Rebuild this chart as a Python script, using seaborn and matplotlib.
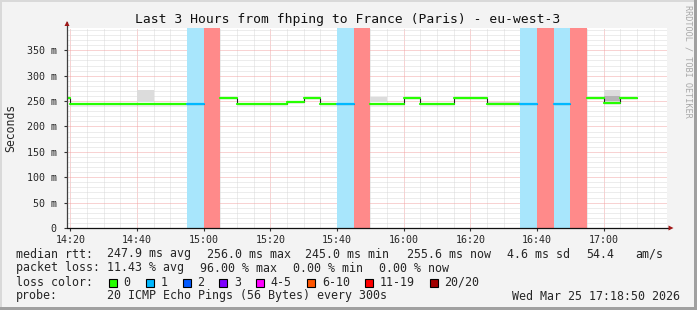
import numpy as np
import pandas as pd
import matplotlib
matplotlib.use("Agg")
import matplotlib.pyplot as plt
import seaborn as sns
from matplotlib.patches import Rectangle, Polygon

# ---------------- data ----------------
step_start = ["14:15", "14:20", "14:25", "14:30", "14:35", "14:40", "14:45", "14:50",
              "14:55", "15:00", "15:05", "15:10", "15:15", "15:20", "15:25", "15:30",
              "15:35", "15:40", "15:45", "15:50", "15:55", "16:00", "16:05", "16:10",
              "16:15", "16:20", "16:25", "16:30", "16:35", "16:40", "16:45", "16:50",
              "16:55", "17:00", "17:05"]
median_ms = [256, 245, 245, 245, 245, 245, 245, 245,
             245, np.nan, 256, 245, 245, 245, 248, 256,
             245, 245, np.nan, 245, 245, 256, 245, 245,
             257, 256, 245, 245, 245, np.nan, 245, np.nan,
             256, 247, 256]
loss_pings = [0, 0, 0, 0, 0, 0, 0, 0,
              1, 19, 0, 0, 0, 0, 0, 0,
              0, 1, 19, 0, 0, 0, 0, 0,
              0, 0, 0, 0, 1, 19, 1, 19,
              0, 0, 0]

smoke_start = ["14:40", "15:50", "16:25", "16:30", "17:00"]
smoke_lo = [248, 248, 246, 246, 249]
smoke_hi = [272, 259, 249, 249, 271]
smoke_dark_start = ["17:00"]
smoke_dark_lo = [250]
smoke_dark_hi = [260]

x_tick_labels = ["14:20", "14:40", "15:00", "15:20", "15:40", "16:00", "16:20", "16:40", "17:00"]
y_tick_values = [0, 50, 100, 150, 200, 250, 300, 350]
y_tick_labels = ["0", "50 m", "100 m", "150 m", "200 m", "250 m", "300 m", "350 m"]

loss_legend_labels = ["0", "1", "2", "3", "4-5", "6-10", "11-19", "20/20"]
loss_legend_colors = ["#26ff00", "#00b8ff", "#0059ff", "#7e00ff", "#ff00ff", "#ff5500", "#ff0000", "#a10000"]

title = "Last 3 Hours from fhping to France (Paris) - eu-west-3"
median_items = ["247.9 ms avg", "256.0 ms max", "245.0 ms min", "255.6 ms now", "4.6 ms sd", "54.4", "am/s"]
loss_items = ["11.43 % avg", "96.00 % max", "0.00 % min", "0.00 % now"]
probe_text = "20 ICMP Echo Pings (56 Bytes) every 300s"
date_text = "Wed Mar 25 17:18:50 2026"

# ---------------- helpers ----------------
W, H = 697, 310
T0 = 14 * 60 + 19     # axis start 14:19
STEP = 5


def tmin(s):
    h, m = map(int, s.split(":"))
    return h * 60 + m - T0


def fx(px):
    return px / W


def fy(py):
    return 1 - py / H


line_colors = {0: "#26ff00", 1: "#00b8ff", 19: "#ff0000"}
band_colors = {1: "#a8e6fc", 19: "#ff8a8a"}

sns.set_theme(style="white")
MONO = ["DejaVu Sans Mono"]
plt.rcParams["font.family"] = MONO

fig = plt.figure(figsize=(W / 100, H / 100), dpi=100)
fig.patch.set_facecolor("#f3f3f3")

ax = fig.add_axes([fx(67), fy(228), fx(600), 200 / H])
ax.set_facecolor("white")
XMAX = 180
YMAX = 394
ax.set_xlim(0, XMAX)
ax.set_ylim(0, YMAX)

# grid (minor then major), dotted
dot = (0, (1, 1))
MINOR_C = "#dadada"
MAJOR_C = "#f2a6a6"
for m in range(0, XMAX + 1):
    tt = m + T0
    if tt % 5 == 0:
        major = tt % 20 == 0
        ax.axvline(m, color=MAJOR_C if major else MINOR_C, lw=0.72, ls=dot, zorder=1)
for v in range(10, YMAX, 10):
    major = v % 50 == 0
    ax.axhline(v, color=MAJOR_C if major else MINOR_C, lw=0.72, ls=dot, zorder=1)

# loss bands
for s, lp in zip(step_start, loss_pings):
    if lp in band_colors:
        x0 = tmin(s)
        ax.axvspan(x0, x0 + STEP, color=band_colors[lp], lw=0, zorder=2)

# smoke
for s, lo, hi in zip(smoke_start, smoke_lo, smoke_hi):
    x0 = tmin(s)
    ax.fill_between([x0, x0 + STEP], lo, hi, color="#dcdcdc", lw=0, zorder=3)
for s, lo, hi in zip(smoke_dark_start, smoke_dark_lo, smoke_dark_hi):
    x0 = tmin(s)
    ax.fill_between([x0, x0 + STEP], lo, hi, color="#b4b4b4", lw=0, zorder=3)

# step connectors (dark)
xs = [tmin(s) for s in step_start]
edge_x = xs + [xs[-1] + STEP]
edge_y = list(median_ms) + [median_ms[-1]]
ax.step(edge_x, edge_y, where="post", color="#202020", lw=0.8, zorder=4)

# coloured median segments via seaborn
rows = []
for i, (s, v, lp) in enumerate(zip(step_start, median_ms, loss_pings)):
    if np.isnan(v):
        continue
    rows.append(dict(x=tmin(s), y=v, loss=lp, unit=i))
    rows.append(dict(x=tmin(s) + STEP, y=v, loss=lp, unit=i))
df = pd.DataFrame(rows)
sns.lineplot(data=df, x="x", y="y", hue="loss", units="unit", estimator=None,
             palette=line_colors, lw=1.6, legend=False, ax=ax, zorder=5,
             sort=False)

# axes styling
for sp in ax.spines.values():
    sp.set_visible(False)
ax.set_xlabel("")
ax.set_ylabel("")
ax.set_xticks([tmin(l) for l in x_tick_labels])
ax.set_xticklabels(x_tick_labels, fontsize=7.2, family=MONO)
ax.set_yticks(y_tick_values)
ax.set_yticklabels(y_tick_labels, fontsize=7.2, family=MONO)
ax.tick_params(axis="x", length=2.5, width=0.8, color="#333333", pad=2.5, direction="out", bottom=True)
ax.tick_params(axis="y", length=2.5, width=0.8, color="#333333", pad=5, direction="out", left=True)

# axis lines with arrows
ax.plot([0, 0], [0, 1 + 6 / 200], transform=ax.transAxes, color="#404040", lw=0.9, clip_on=False, zorder=6)
ax.plot([0, 1 + 2 / 600], [0, 0], transform=ax.transAxes, color="#101010", lw=0.9, clip_on=False, zorder=6)
fig.add_artist(Polygon([[fx(64.5), fy(26)], [fx(69.5), fy(26)], [fx(67), fy(21)]], closed=True,
                       color="#a01818", lw=0, transform=fig.transFigure))
fig.add_artist(Polygon([[fx(668.5), fy(225.5)], [fx(668.5), fy(230.5)], [fx(673.5), fy(228)]], closed=True,
                       color="#a01818", lw=0, transform=fig.transFigure))

# texts
fig.text(fx(347.5), fy(19), title, ha="center", va="center", fontsize=9.37, family=MONO, color="#101010")
fig.text(fx(11), fy(128), "Seconds", rotation=90, ha="center", va="center", fontsize=8.3, family=MONO)
fig.text(fx(688), fy(5), "RRDTOOL / TOBI OETIKER", rotation=-90, ha="center", va="top",
         fontsize=6.1, family=MONO, color="#a8a8a8")

LS = 8.35
median_x = [107.3, 207.3, 305.0, 407.3, 506.7, 586.0, 635.7]
loss_x = [107.3, 200.0, 292.7, 379.3]
fig.text(fx(16), fy(254), "median rtt:", ha="left", va="center", fontsize=LS, family=MONO)
for px, t in zip(median_x, median_items):
    fig.text(fx(px), fy(254), t, ha="left", va="center", fontsize=LS, family=MONO)
fig.text(fx(16), fy(268), "packet loss:", ha="left", va="center", fontsize=LS, family=MONO)
for px, t in zip(loss_x, loss_items):
    fig.text(fx(px), fy(268), t, ha="left", va="center", fontsize=LS, family=MONO)
fig.text(fx(16), fy(282), "loss color:", ha="left", va="center", fontsize=LS, family=MONO)
box_x = [108.7, 145.7, 182.7, 219.3, 256, 307.3, 365, 430]
for bx, lab, col in zip(box_x, loss_legend_labels, loss_legend_colors):
    fig.add_artist(Rectangle((fx(bx), fy(286.5)), 8 / W, 8 / H, facecolor=col, edgecolor="black",
                             lw=0.8, transform=fig.transFigure))
    fig.text(fx(bx + 14.5), fy(282), lab, ha="left", va="center", fontsize=LS, family=MONO)
fig.text(fx(16), fy(296), "probe:", ha="left", va="center", fontsize=LS, family=MONO)
fig.text(fx(107.3), fy(296), probe_text, ha="left", va="center", fontsize=LS, family=MONO)
fig.text(fx(680), fy(296), date_text, ha="right", va="center", fontsize=LS, family=MONO)

# frame shading
fig.add_artist(Rectangle((0, fy(2)), 1, 2 / H, color="#d9d9d9", lw=0, transform=fig.transFigure))
fig.add_artist(Rectangle((0, 0), 2 / W, 1, color="#d9d9d9", lw=0, transform=fig.transFigure))
fig.add_artist(Rectangle((0, 0), 1, 3 / H, color="#a0a0a0", lw=0, transform=fig.transFigure))
fig.add_artist(Rectangle((fx(694), 0), 3 / W, 1, color="#a0a0a0", lw=0, transform=fig.transFigure))

fig.savefig("out.png", dpi=100, facecolor=fig.get_facecolor())
